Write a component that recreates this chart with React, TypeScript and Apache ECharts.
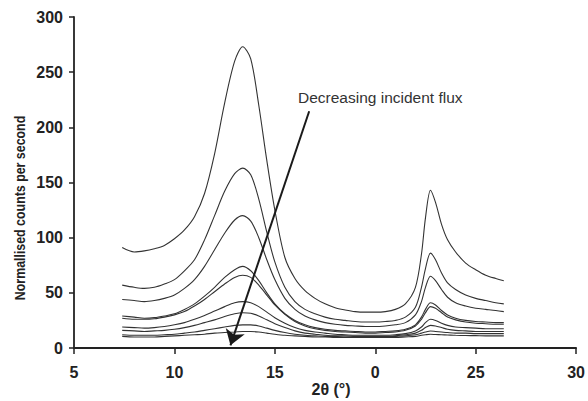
import React, { useEffect, useRef } from "react";
import * as echarts from "echarts";

const twoTheta = [7.4, 8, 8.5, 9, 9.5, 10, 10.5, 11, 11.5, 12, 12.5, 13, 13.4, 13.8, 14.2, 14.6, 15, 15.5, 16, 16.5, 17, 17.5, 18, 18.5, 19, 19.5, 20, 20.5, 21, 21.5, 22, 22.3, 22.5, 22.75, 23, 23.3, 23.6, 24, 24.5, 25, 25.5, 26, 26.4];

const fluxA = [91, 87, 88, 90, 93, 99, 107, 119, 140, 176, 222, 260, 273, 262, 220, 170, 125, 82, 63, 52, 45, 40, 36.5, 34.5, 33, 32.5, 32.5, 33, 35, 40, 55, 85, 118, 143, 132, 112, 98, 87, 77, 71, 66, 63, 61];
const fluxB = [57, 55, 54, 55, 58, 62, 70, 80, 98, 120, 142, 158, 163, 157, 135, 105, 78, 55, 42, 35, 31, 28, 26, 25, 24, 23.5, 23.5, 24, 25, 28, 37, 55, 72, 86, 80, 68, 59, 53, 48, 45, 43, 41, 40];
const fluxC = [44, 43, 42, 43, 45, 48, 54, 62, 74, 89, 104, 116, 120, 115, 100, 80, 62, 45, 35, 29, 25.5, 23, 21.5, 20.5, 20, 19.5, 19.5, 20, 21, 23, 30, 42, 55, 65, 61, 53, 46, 41, 38, 36, 35, 34, 33];
const fluxD = [29, 28, 27, 27.5, 29, 31, 35, 40, 47, 55, 64, 71, 74, 70, 61, 50, 40, 31, 25, 21, 18.5, 17, 16, 15.5, 15, 14.5, 14.5, 15, 15.5, 17, 21, 28, 35, 41, 39, 34, 30, 27, 25, 24, 23.5, 23, 23];
const fluxE = [27, 26, 26, 26.5, 28, 30, 33, 38, 44, 51, 58, 64, 66, 64, 57, 48, 39, 30.5, 24, 20, 17.5, 16, 15, 14.5, 14, 13.5, 13.5, 14, 14.5, 16, 20, 26, 32, 37.5, 36, 32, 28, 25.5, 23.5, 22.5, 22, 21.5, 21.5];
const fluxF = [19, 18.5, 18, 18.5, 19.5, 21, 23, 26, 29.5, 33.5, 37.5, 41, 42, 41, 37.5, 32.5, 27.5, 22.5, 18.5, 16, 14.5, 13.5, 12.5, 12, 11.5, 11.5, 11.5, 11.5, 12, 13, 15.5, 19, 23, 26, 25, 22.5, 20.5, 19, 18.5, 18, 17.5, 17.5, 17.5];
const fluxG = [16, 15.5, 15, 15.5, 16, 17, 18.5, 20.5, 23, 25.5, 28.5, 31, 32, 31.5, 29, 25.5, 22, 18.5, 15.5, 13.5, 12.5, 11.5, 11, 11, 10.5, 10.5, 10.5, 10.5, 11, 12, 13.5, 16, 18.5, 20.5, 20, 18.5, 17, 16, 15.5, 15, 15, 15, 15];
const fluxH = [12, 11.5, 11.5, 11.5, 12, 12.5, 13.5, 14.5, 16, 17.5, 19, 20.5, 21, 21, 20, 18, 16, 14, 12.5, 11.5, 11, 10.5, 10.5, 10, 10, 10, 10, 10, 10.5, 11, 12, 13.5, 14.5, 15.4, 15, 14.5, 14, 13.5, 13.5, 13, 13, 13, 13];
const fluxI = [10.5, 10, 10, 10, 10.5, 11, 11.5, 12, 12.5, 13.5, 14, 14.5, 15, 15, 14.5, 13.5, 12.5, 11.5, 11, 10.5, 10, 10, 9.5, 9.5, 9.5, 9.5, 9.5, 9.5, 9.5, 10, 10.5, 11.5, 12, 12.4, 12.2, 12, 11.8, 11.5, 11.3, 11.2, 11, 11, 11];

const allCurves = [fluxA, fluxB, fluxC, fluxD, fluxE, fluxF, fluxG, fluxH, fluxI];

const xTicks = [5, 10, 15, 20, 25, 30];
const xTickLabels = ["5", "10", "15", "0", "25", "30"];
const yTicks = [0, 50, 100, 150, 200, 250, 300];

const arrowStart = [16.71, 214.6];
const arrowEnd = [12.79, 2.4];

const annotation = "Decreasing incident flux";
const xTitle = "2θ (°)";
const yTitle = "Normallised counts per second";

export default function App() {
  const ref = useRef<HTMLDivElement>(null);
  useEffect(() => {
    if (!ref.current) return;
    const chart = echarts.init(ref.current, null, { renderer: "svg" });
    const font = "Arial";
    const series: any[] = allCurves.map((vals, i) => ({
      type: "line",
      data: twoTheta.map((x, j) => [x, vals[j]]),
      showSymbol: false,
      smooth: 0.3,
      lineStyle: { color: "#333", width: 1.1 },
      itemStyle: { color: "#1a1a1a" },
      silent: true,
      z: 2,
      markLine:
        i === 0
          ? {
              silent: true,
              symbol: ["none", "arrow"],
              symbolSize: 15,
              itemStyle: { color: "#1a1a1a" },
              lineStyle: { color: "#1a1a1a", width: 2, type: "solid" },
              label: { show: false },
              data: [[{ coord: arrowStart }, { coord: arrowEnd }]],
            }
          : undefined,
    }));
    chart.setOption({
      animation: false,
      backgroundColor: "#fff",
      grid: { left: 74, right: 10, top: 17, bottom: 53 },
      xAxis: {
        type: "value",
        min: 5,
        max: 30,
        interval: 5,
        axisLine: { show: true, lineStyle: { color: "#222", width: 1.8 } },
        axisTick: { show: true, length: 6, lineStyle: { color: "#222", width: 1.5 } },
        axisLabel: {
          margin: 16,
          fontSize: 16,
          fontWeight: "bold",
          fontFamily: font,
          color: "#222",
          formatter: (v: number) => {
            const k = xTicks.indexOf(v);
            return k >= 0 ? xTickLabels[k] : "";
          },
        },
        splitLine: { show: false },
      },
      yAxis: {
        type: "value",
        min: 0,
        max: 300,
        interval: 50,
        axisLine: { show: true, lineStyle: { color: "#222", width: 1.8 } },
        axisTick: { show: true, length: 5, lineStyle: { color: "#222", width: 1.5 } },
        axisLabel: {
          margin: 11,
          fontSize: 16,
          fontWeight: "bold",
          fontFamily: font,
          color: "#222",
          formatter: (v: number) => (yTicks.indexOf(v) >= 0 ? String(v) : ""),
        },
        splitLine: { show: false },
      },
      graphic: [
        {
          type: "text",
          x: 298,
          y: 97,
          style: {
            text: annotation,
            fontSize: 15.5,
            fontFamily: font,
            fill: "#333",
            verticalAlign: "middle",
            align: "left",
          },
        },
        {
          type: "text",
          x: 331,
          y: 389,
          style: {
            text: xTitle,
            fontSize: 16,
            fontWeight: "bold",
            fontFamily: font,
            fill: "#222",
            align: "center",
            verticalAlign: "middle",
          },
        },
        {
          type: "text",
          x: 19,
          y: 208,
          rotation: Math.PI / 2,
          scaleX: 0.8,
          style: {
            text: yTitle,
            fontSize: 15.5,
            fontWeight: "bold",
            fontFamily: font,
            fill: "#222",
            align: "center",
            verticalAlign: "middle",
          },
        },
      ],
      series,
    });
    return () => chart.dispose();
  }, []);
  return (
    <div
      ref={ref}
      style={{ position: "fixed", left: 0, top: 0, width: 588, height: 401, background: "#fff" }}
    />
  );
}
